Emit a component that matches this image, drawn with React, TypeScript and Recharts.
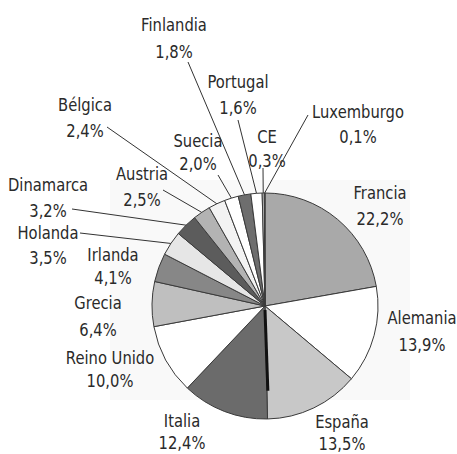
import React from "react";
import { PieChart, Pie, Cell } from "recharts";

// reparto por país, en sentido horario desde las 12
const countries = [
  "Francia", "Alemania", "España", "Italia", "Reino Unido", "Grecia", "Irlanda", "Holanda",
  "Dinamarca", "Austria", "Bélgica", "Suecia", "Finlandia", "Portugal", "CE", "Luxemburgo",
];
const shares = [22.2, 13.9, 13.5, 12.4, 10.0, 6.4, 4.1, 3.5, 3.2, 2.5, 2.4, 2.0, 1.8, 1.6, 0.3, 0.1];

const fills = [
  "#a9a9a9", "#ffffff", "#c8c8c8", "#6b6b6b", "#ffffff", "#bfbfbf", "#878787", "#e6e6e6",
  "#5c5c5c", "#b3b3b3", "#f3f3f3", "#ffffff", "#6e6e6e", "#ffffff", "#d4d4d4", "#9a9a9a",
];

// label placement: text centre x, first line y, second line y, leader start (optional)
const labelPos: Record<string, { x: number; y: number; y2: number; lx?: number; ly?: number }> = {
  Francia: { x: 380, y: 193, y2: 219 },
  Alemania: { x: 422, y: 318, y2: 345 },
  "España": { x: 342, y: 422, y2: 444 },
  Italia: { x: 182, y: 421, y2: 443 },
  "Reino Unido": { x: 110, y: 358, y2: 381 },
  Grecia: { x: 98, y: 303, y2: 330 },
  Irlanda: { x: 113, y: 255, y2: 278 },
  Holanda: { x: 48, y: 233, y2: 258, lx: 80, ly: 233 },
  Dinamarca: { x: 48, y: 185, y2: 211, lx: 72, ly: 209 },
  Austria: { x: 142, y: 174, y2: 200, lx: 163, ly: 190 },
  "Bélgica": { x: 85, y: 105, y2: 131, lx: 107, ly: 127 },
  Suecia: { x: 198, y: 141, y2: 164, lx: 218, ly: 175 },
  Finlandia: { x: 174, y: 25, y2: 52, lx: 188, ly: 62 },
  Portugal: { x: 238, y: 82, y2: 108, lx: 238, ly: 120 },
  CE: { x: 267, y: 137, y2: 161, lx: 263, ly: 168 },
  Luxemburgo: { x: 358, y: 112, y2: 137, lx: 308, ly: 115 },
};

const data = countries.map((name, i) => ({ name, value: shares[i] }));

const RAD = Math.PI / 180;
const fmt = (v: number) => v.toFixed(1).replace(".", ",") + "%";

// narrow, tall lettering like the printed original
const NarrowText = ({ x, y, children }: { x: number; y: number; children: React.ReactNode }) => (
  <g transform={`translate(${x},${y}) scale(0.82,1)`}>
    <text x={0} y={0} textAnchor="middle" dominantBaseline="central" fill="#2a2a2a" fontSize={18}>
      {children}
    </text>
  </g>
);

const renderLabel = (props: any) => {
  const { cx, cy, midAngle, startAngle, outerRadius, name, value } = props;
  const pos = labelPos[name];
  if (!pos) return null;
  const ex = cx + outerRadius * Math.cos(-midAngle * RAD);
  const ey = cy + outerRadius * Math.sin(-midAngle * RAD);
  return (
    <g>
      {name === "Italia" && (
        <line
          x1={cx}
          y1={cy + 4}
          x2={cx + outerRadius * 0.75 * Math.cos(-startAngle * RAD) + 1}
          y2={cy + outerRadius * 0.75 * Math.sin(-startAngle * RAD)}
          stroke="#111"
          strokeWidth={3}
        />
      )}
      {pos.lx !== undefined && (
        <line x1={pos.lx} y1={pos.ly} x2={ex} y2={ey} stroke="#333" strokeWidth={1} />
      )}
      <NarrowText x={pos.x} y={pos.y}>{name}</NarrowText>
      <NarrowText x={pos.x} y={pos.y2}>{fmt(value)}</NarrowText>
    </g>
  );
};

export default function App() {
  return (
    <div style={{ position: "absolute", left: 0, top: 0, width: 457, height: 454, background: "#fff" }}>
      <div style={{ position: "absolute", left: 110, top: 180, width: 300, height: 220, background: "#f9f9f9" }} />
      <div style={{ position: "absolute", left: 0, top: 0 }}>
        <PieChart
          width={457}
          height={454}
          style={{ fontFamily: "'DejaVu Sans', sans-serif" }}
        >
          <Pie
            data={data}
            dataKey="value"
            nameKey="name"
            cx={260}
            cy={301}
            outerRadius={113}
            startAngle={90}
            endAngle={-270}
            stroke="#3a3a3a"
            strokeWidth={1}
            label={renderLabel}
            labelLine={false}
            isAnimationActive={false}
          >
            {data.map((entry, index) => (
              <Cell key={`cell-${index}`} fill={fills[index]} />
            ))}
          </Pie>
        </PieChart>
      </div>
    </div>
  );
}
